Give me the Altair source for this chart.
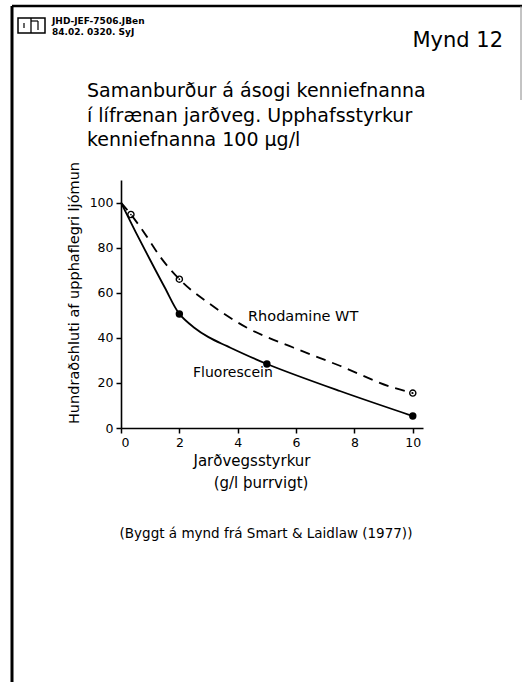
import altair as alt
import pandas as pd

# ---- data ----
# Fluorescein (solid curve) and its measured points
fluo_curve_x = [0, 0.5, 1.0, 1.5, 2.0, 2.5, 3.0, 3.62, 5.0, 7.5, 10.0]
fluo_curve_y = [100, 87, 74.5, 62.3, 50.6, 44.6, 40.3, 36.4, 28.4, 16.4, 5.3]
fluo_pts_x = [2.0, 5.0, 10.0]
fluo_pts_y = [50.6, 28.4, 5.3]

# Rhodamine WT (dashed curve) and its measured points
rhod_curve_x = [0, 0.34, 0.88, 1.34, 2.0, 3.05, 4.3, 5.9, 7.5, 9.33, 10.0]
rhod_curve_y = [100, 94.7, 85, 76, 66, 55, 44.6, 35.7, 27.6, 17.9, 15.5]
rhod_pts_x = [0.34, 2.0, 10.0]
rhod_pts_y = [94.7, 66, 15.5]

x_ticks = [0, 2, 4, 6, 8, 10]
y_ticks = [0, 20, 40, 60, 80, 100]

title_lines = [
    "Samanburður á ásogi kenniefnanna",
    "í lífrænan jarðveg. Upphafsstyrkur",
    "kenniefnanna 100 μg/l",
]
header_lines = ["JHD-JEF-7506.JBen", "84.02. 0320. SyJ"]
fig_label = "Mynd 12"
y_title = "Hundraðshluti af upphaflegri ljómun"
x_title = ["Jarðvegsstyrkur", "(g/l þurrvigt)"]
caption = "(Byggt á mynd frá Smart & Laidlaw (1977))"
series_labels = ["Rhodamine WT", "Fluorescein"]

FONT = "DejaVu Sans"
LEFT, TOP = 121, 180  # plot origin on the page
W, H = 302, 248

fluo_curve = pd.DataFrame({"x": fluo_curve_x, "y": fluo_curve_y})
fluo_pts = pd.DataFrame({"x": fluo_pts_x, "y": fluo_pts_y})
rhod_curve = pd.DataFrame({"x": rhod_curve_x, "y": rhod_curve_y})
rhod_pts = pd.DataFrame({"x": rhod_pts_x, "y": rhod_pts_y})
one = pd.DataFrame({"k": [0]})

xs = alt.Scale(domain=[0, 10.35], nice=False, zero=False)
ys = alt.Scale(domain=[0, 110], nice=False)
x_enc = alt.X("x:Q", scale=xs, axis=alt.Axis(values=x_ticks, title=None, format="d"))
y_enc = alt.Y("y:Q", scale=ys, axis=alt.Axis(values=y_ticks, title=None, format="d"))

line_f = alt.Chart(fluo_curve).mark_line(
    color="black", strokeWidth=1.8, interpolate="catmull-rom"
).encode(x=x_enc, y=y_enc)
line_r = alt.Chart(rhod_curve).mark_line(
    color="black", strokeWidth=1.8, strokeDash=[10, 7], interpolate="monotone"
).encode(x=x_enc, y=y_enc)
pts_f = alt.Chart(fluo_pts).mark_circle(color="black", size=55, opacity=1).encode(x=x_enc, y=y_enc)
pts_r = alt.Chart(rhod_pts).mark_point(
    shape="circle", filled=False, color="black", size=38, strokeWidth=1.4, opacity=1
).encode(x=x_enc, y=y_enc)
pts_r_dot = alt.Chart(rhod_pts).mark_circle(color="black", size=3, opacity=1).encode(x=x_enc, y=y_enc)


def text(txt, px, py, size, align="left", weight="normal", angle=0, font=FONT, baseline="alphabetic"):
    kw = dict(align=align, baseline=baseline, fontSize=size, font=font, color="black", fontWeight=weight)
    if angle:
        kw["angle"] = angle
    return alt.Chart(one).mark_text(**kw).encode(
        x=alt.value(px - LEFT), y=alt.value(py - TOP), text=alt.value(txt)
    )


def rule(x1, y1, x2, y2, width=1.5, color="black"):
    return alt.Chart(one).mark_rule(color=color, strokeWidth=width).encode(
        x=alt.value(x1 - LEFT), x2=alt.value(x2 - LEFT),
        y=alt.value(y1 - TOP), y2=alt.value(y2 - TOP),
    )


decor = [
    # page frame
    rule(12, 6, 12, 682, width=3),
    rule(12, 6, 522, 6, width=2.5),
    rule(521, 6, 521, 100, width=1, color="#888888"),
    # logo box
    alt.Chart(one).mark_rect(filled=False, stroke="black", strokeWidth=1.5).encode(
        x=alt.value(18 - LEFT), x2=alt.value(45 - LEFT),
        y=alt.value(18 - TOP), y2=alt.value(33 - TOP),
    ),
    rule(31, 18, 31, 33, width=1.3),
    rule(24, 23, 24, 28, width=1.2),
    rule(31, 21, 38, 21, width=1.2),
    rule(38, 21, 38, 30, width=1.2),
]

texts = [
    text(header_lines[0], 52, 24, 9, weight="bold"),
    text(header_lines[1], 52, 34.5, 9, weight="bold"),
    text(fig_label, 503, 47, 21, align="right"),
    text(title_lines[0], 87, 97, 19),
    text(title_lines[1], 87, 122, 19),
    text(title_lines[2], 87, 146, 19),
    text(y_title, 79, 293, 14.5, align="center", angle=270),
    text(x_title[0], 252, 466, 15, align="center"),
    text(x_title[1], 261, 488, 15, align="center"),
    text(caption, 266, 538, 13.5, align="center"),
    text(series_labels[0], 248, 321, 14.5),
    text(series_labels[1], 193, 377, 14),
]

chart = alt.layer(
    line_r, line_f, pts_r, pts_r_dot, pts_f, *decor, *texts
).properties(
    width=W,
    height=H,
    autosize=alt.AutoSizeParams(type="none"),
    padding={"left": LEFT, "top": TOP, "right": 523 - LEFT - W, "bottom": 682 - TOP - H},
    background="white",
).configure_view(
    stroke=None
).configure_axis(
    grid=False,
    domainColor="black",
    domainWidth=1.6,
    tickColor="black",
    tickWidth=1.5,
    tickSize=5,
    labelFont=FONT,
    labelFontSize=12.5,
    labelColor="black",
    labelPadding=3,
)

chart.save("out.html", embed_options={"renderer": "svg", "actions": False})
